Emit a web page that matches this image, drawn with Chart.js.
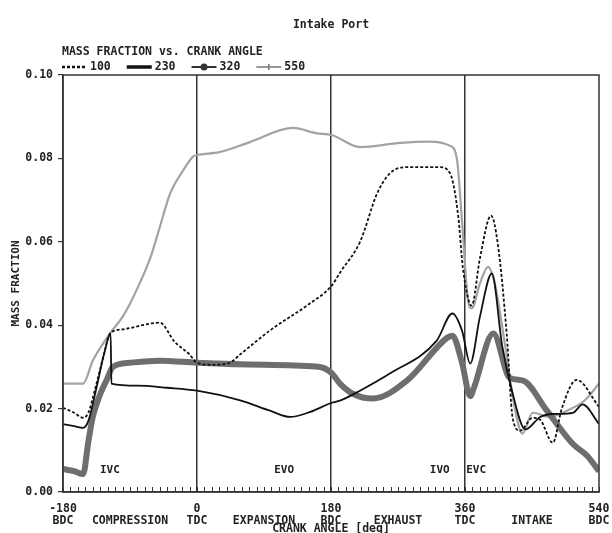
<!DOCTYPE html>
<html>
<head>
<meta charset="utf-8">
<script src="https://cdn.jsdelivr.net/npm/chart.js@4/dist/chart.umd.min.js"></script>
<style>
  html, body { margin: 0; padding: 0; background: #fff; }
  #wrap { width: 612px; height: 533px; position: relative; }
</style>
</head>
<body>
<div id="wrap"><canvas id="c" width="612" height="533"></canvas></div>
<script>
// ---------- data ----------
const seriesNames = ['100', '230', '320', '550'];

const angle100 = [-180,-165,-153,-146,-135,-125,-117,-100,-50,-30,-10,0,20,44,58,100,150,181,192,219,242,259,282,326,340,351,357,369,380,395,404,416,424,434,451,461,478,490,510,540];
const frac100  = [0.0202,0.019,0.0178,0.019,0.026,0.033,0.038,0.039,0.0406,0.036,0.033,0.031,0.0305,0.031,0.033,0.039,0.045,0.0495,0.0526,0.060,0.0716,0.0764,0.0779,0.0779,0.0764,0.066,0.054,0.0447,0.056,0.0663,0.0596,0.038,0.0178,0.0147,0.0178,0.0173,0.0118,0.02,0.0269,0.0204];

const angle230 = [-180,-165,-153,-146,-135,-125,-116,-115,-80,-40,0,58,98,125,152,181,192,219,259,322,343,356,367,380,396,410,424,441,461,478,505,518,540];
const frac230  = [0.0163,0.0158,0.0154,0.017,0.025,0.033,0.038,0.026,0.0255,0.025,0.0243,0.022,0.0195,0.018,0.0192,0.0214,0.0219,0.0243,0.0284,0.0363,0.0428,0.0387,0.0308,0.042,0.0524,0.035,0.0236,0.015,0.018,0.0187,0.019,0.021,0.0163];

const angle320 = [-180,-165,-153,-146,-140,-130,-121,-113,-90,-50,0,90,165,181,192,210,236,282,336,343,356,367,372,398,420,438,470,505,524,540];
const frac320  = [0.0055,0.005,0.0043,0.012,0.018,0.0235,0.027,0.030,0.031,0.0315,0.031,0.0305,0.030,0.0285,0.026,0.0235,0.0224,0.0267,0.037,0.0375,0.031,0.023,0.025,0.038,0.0274,0.0267,0.0195,0.0115,0.0087,0.005];

const angle550 = [-180,-153,-140,-117,-100,-86,-63,-50,-36,-19,-5,0,30,71,129,161,181,219,273,313,340,349,356,364,369,380,391,400,414,427,437,451,474,497,521,540];
const frac550  = [0.026,0.026,0.0315,0.038,0.042,0.0466,0.056,0.0635,0.0716,0.077,0.0805,0.0808,0.0815,0.0839,0.0873,0.086,0.0856,0.0827,0.0837,0.084,0.083,0.080,0.065,0.046,0.044,0.050,0.054,0.050,0.035,0.020,0.014,0.019,0.018,0.0195,0.022,0.026];

// tick labels
const xMajorAngles = [-180, 0, 180, 360, 540];
const xMajorNames  = ['BDC', 'TDC', 'BDC', 'TDC', 'BDC'];
const strokeAngles = [-90, 90, 270, 450];
const strokeNames  = ['COMPRESSION', 'EXPANSION', 'EXHAUST', 'INTAKE'];
const eventAngles  = [-117, 117, 326, 375];
const eventNames   = ['IVC', 'EVO', 'IVO', 'EVC'];
const eventLevel   = 0.0053;

// ---------- helpers ----------
function pts(xs, ys) { return xs.map((x, i) => ({ x: x, y: ys[i] })); }
const xTickValues = [];
for (let v = -180; v <= 540; v += 10) xTickValues.push(v);

const FONT = 'DejaVu Sans Mono';
Chart.defaults.font.family = FONT;
Chart.defaults.font.size = 11.5;
Chart.defaults.font.weight = 'bold';
Chart.defaults.color = '#222';

const frameColor = '#333';

// frame, inner ticks, event labels, legend
const decorPlugin = {
  id: 'decor',
  afterDatasetsDraw(chart) {
    const { ctx, chartArea: a, scales } = chart;
    const xs = scales.x, ys = scales.y;
    ctx.save();
    ctx.strokeStyle = frameColor;
    ctx.lineWidth = 1.5;
    ctx.strokeRect(a.left, a.top, a.right - a.left, a.bottom - a.top);
    ctx.lineWidth = 1;
    ctx.beginPath();
    xTickValues.forEach(v => {
      const px = Math.round(xs.getPixelForValue(v)) + 0.5;
      ctx.moveTo(px, a.bottom);
      ctx.lineTo(px, a.bottom - 5);
    });
    ctx.stroke();
    ctx.fillStyle = '#222';
    ctx.font = 'bold 11px ' + FONT;
    ctx.textAlign = 'center';
    ctx.textBaseline = 'middle';
    eventNames.forEach((n, i) => {
      ctx.fillText(n, xs.getPixelForValue(eventAngles[i]), ys.getPixelForValue(eventLevel));
    });
    ctx.restore();
  },
  afterDraw(chart) {
    const ctx = chart.ctx;
    ctx.save();
    ctx.fillStyle = '#222';
    ctx.font = 'bold 11.5px ' + FONT;
    ctx.textAlign = 'left';
    ctx.textBaseline = 'middle';
    ctx.fillText('MASS FRACTION vs. CRANK ANGLE', 62, 52);
    let x = 62;
    const y = 67;
    chart.data.datasets.forEach(ds => {
      ctx.save();
      ctx.strokeStyle = ds.legendColor || ds.borderColor;
      ctx.lineWidth = ds.legendWidth || 2;
      ctx.setLineDash(ds.borderDash || []);
      ctx.beginPath();
      ctx.moveTo(x, y);
      ctx.lineTo(x + 25, y);
      ctx.stroke();
      ctx.setLineDash([]);
      if (ds.legendMarker === 'dot') {
        ctx.fillStyle = ds.legendColor || ds.borderColor;
        ctx.beginPath();
        ctx.arc(x + 12.5, y, 3.5, 0, Math.PI * 2);
        ctx.fill();
      } else if (ds.legendMarker === 'tick') {
        ctx.lineWidth = 1.5;
        ctx.beginPath();
        ctx.moveTo(x + 12.5, y - 3);
        ctx.lineTo(x + 12.5, y + 3);
        ctx.stroke();
      }
      ctx.restore();
      x += 28;
      ctx.fillText(ds.label, x, y);
      x += ctx.measureText(ds.label).width + 16;
    });
    ctx.restore();
  }
};

const common = { pointRadius: 0, fill: false, cubicInterpolationMode: 'monotone' };

new Chart(document.getElementById('c'), {
  type: 'line',
  data: {
    datasets: [
      Object.assign({ label: seriesNames[0], data: pts(angle100, frac100), borderColor: '#111',
        borderWidth: 1.8, borderDash: [3, 2], legendWidth: 2.5 }, common),
      Object.assign({ label: seriesNames[1], data: pts(angle230, frac230), borderColor: '#111',
        borderWidth: 1.8, legendWidth: 3.5 }, common),
      Object.assign({ label: seriesNames[2], data: pts(angle320, frac320), borderColor: '#6e6e6e',
        borderWidth: 6, legendWidth: 2, legendColor: '#333', legendMarker: 'dot' }, common),
      Object.assign({ label: seriesNames[3], data: pts(angle550, frac550), borderColor: '#a3a3a3',
        borderWidth: 2.2, legendWidth: 1.5, legendColor: '#777', legendMarker: 'tick' }, common)
    ]
  },
  options: {
    responsive: false,
    animation: false,
    layout: { padding: { left: 0, right: 13, top: 0, bottom: 0 } },
    plugins: {
      legend: { display: false },
      tooltip: { enabled: false },
      title: {
        display: true,
        text: 'Intake Port',
        fullSize: false,
        font: { size: 11.5, weight: 'bold', family: FONT, lineHeight: 1.2 },
        color: '#222',
        padding: { top: 18, bottom: 43.2 }
      }
    },
    scales: {
      x: {
        type: 'linear',
        min: -180,
        max: 540,
        afterBuildTicks(scale) { scale.ticks = xTickValues.map(v => ({ value: v })); },
        afterFit(scale) { scale.height = 41; scale.paddingLeft = 0; scale.paddingRight = 0; },
        ticks: {
          autoSkip: false,
          maxRotation: 0,
          minRotation: 0,
          padding: 11,
          color: '#222',
          font: { size: 11.5, weight: 'bold', family: FONT, lineHeight: 1.05 },
          callback(value) {
            const i = xMajorAngles.indexOf(value);
            if (i >= 0) return [String(value), xMajorNames[i]];
            const j = strokeAngles.indexOf(value);
            if (j >= 0) return ['', strokeNames[j]];
            return '';
          }
        },
        grid: {
          drawTicks: false,
          lineWidth: 1.5,
          color(ctx) {
            const v = ctx.tick ? ctx.tick.value : null;
            return (v === 0 || v === 180 || v === 360) ? frameColor : 'rgba(0,0,0,0)';
          }
        },
        border: { display: true, color: frameColor, width: 1.5 },
        title: {
          display: true,
          text: 'CRANK ANGLE [deg]',
          color: '#222',
          font: { size: 11.5, weight: 'bold', family: FONT, lineHeight: 1.2 },
          padding: { top: 0, bottom: -3 }
        }
      },
      y: {
        type: 'linear',
        min: 0,
        max: 0.1,
        afterFit(scale) { scale.width = 63; },
        ticks: {
          stepSize: 0.02,
          padding: 5,
          color: '#222',
          font: { size: 11.5, weight: 'bold', family: FONT },
          callback(value) { return Number(value).toFixed(2); }
        },
        grid: { drawOnChartArea: false, drawTicks: true, tickLength: 5, color: frameColor, lineWidth: 1.2 },
        border: { display: true, color: frameColor, width: 1.5 },
        title: {
          display: true,
          text: 'MASS FRACTION',
          color: '#222',
          font: { size: 11, weight: 'bold', family: FONT, lineHeight: 1.2 },
          padding: { top: 10, bottom: 0 }
        }
      }
    }
  },
  plugins: [decorPlugin]
});
</script>
</body>
</html>
